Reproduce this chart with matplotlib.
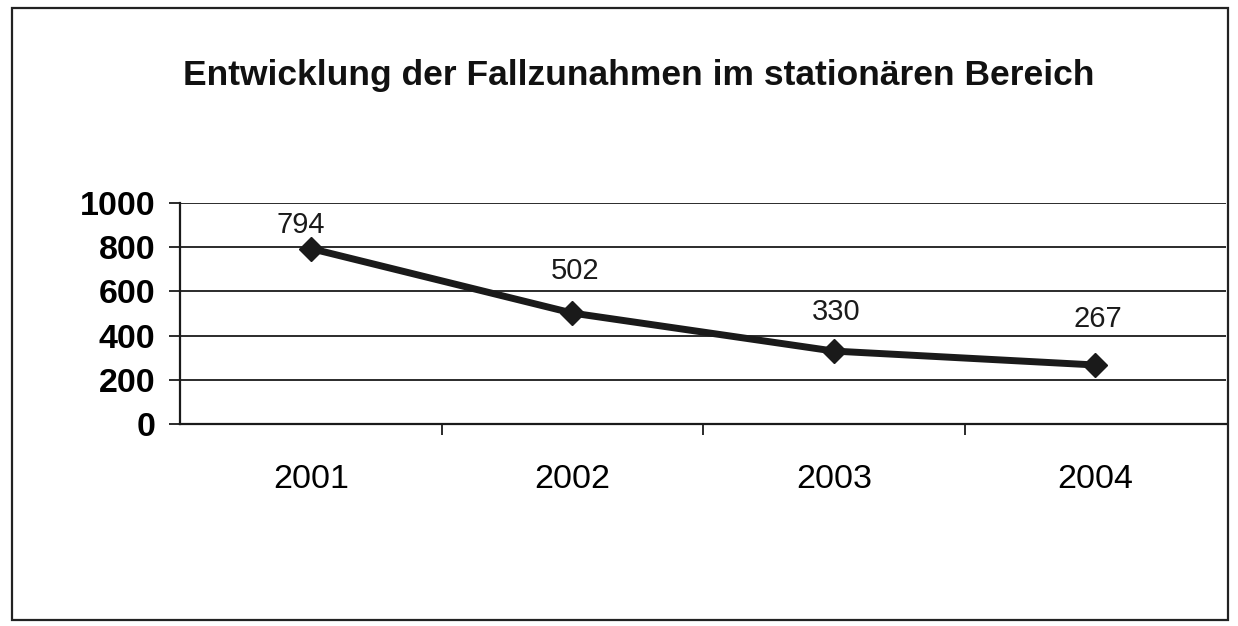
import matplotlib
matplotlib.use("Agg")
import matplotlib.pyplot as plt
from matplotlib.patches import Rectangle
from matplotlib.ticker import FixedLocator

years = ["2001", "2002", "2003", "2004"]
values = [794, 502, 330, 267]
y_ticks = [0, 200, 400, 600, 800, 1000]
title = "Entwicklung der Fallzunahmen im stationären Bereich"

plt.rcParams['font.family'] = ['Liberation Sans', 'DejaVu Sans']

W, H = 1238, 626
fig = plt.figure(figsize=(W / 100, H / 100), dpi=100)
fig.patch.set_facecolor("white")

# outer border
fig.patches.append(Rectangle((12 / W, 1 - 620 / H), (1228 - 12) / W, (620 - 8) / H,
                             transform=fig.transFigure, fill=False,
                             edgecolor="#222222", linewidth=1.6))

fig.text(639 / W, 1 - 75 / H, title, ha="center", va="center",
         fontsize=25.5, fontweight="bold", color="#111111")

ax = fig.add_axes([180 / W, 1 - 424 / H, (1226 - 180) / W, (424 - 203) / H])
x = list(range(len(years)))
ax.plot(x, values, color="#1a1a1a", linewidth=5, marker="D", markersize=12,
        solid_joinstyle="round", zorder=5, clip_on=False)

offsets = [17, 30, 28, 33]
for xi, v, off in zip(x, values, offsets):
    ax.annotate(str(v), (xi, v), xytext=(-7 if xi == 0 else 2, off),
                textcoords="offset points", ha="center", va="center",
                fontsize=21, color="#1a1a1a")

ax.set_xlim(-0.5, 3.5)
ax.set_ylim(0, 1000)
ax.set_yticks(y_ticks)
ax.set_yticklabels([str(t) for t in y_ticks], fontsize=24.5, fontweight="bold")
ax.yaxis.grid(True, color="#1a1a1a", linewidth=1.3)
ax.set_axisbelow(True)

ax.xaxis.set_major_locator(FixedLocator([0.5, 1.5, 2.5]))
ax.xaxis.set_minor_locator(FixedLocator(x))
ax.set_xticklabels([])
ax.set_xticklabels(years, minor=True, fontsize=24.5)
ax.tick_params(axis="x", which="major", direction="out", length=8, width=1.3, color="#1a1a1a")
ax.tick_params(axis="x", which="minor", length=0, pad=29)
ax.tick_params(axis="y", direction="out", length=8, width=1.3, color="#1a1a1a", pad=10)

for s in ["top", "right"]:
    ax.spines[s].set_visible(False)
for s in ["left", "bottom"]:
    ax.spines[s].set_linewidth(1.6)
    ax.spines[s].set_color("#1a1a1a")

fig.savefig("out.png", dpi=100, facecolor="white")
